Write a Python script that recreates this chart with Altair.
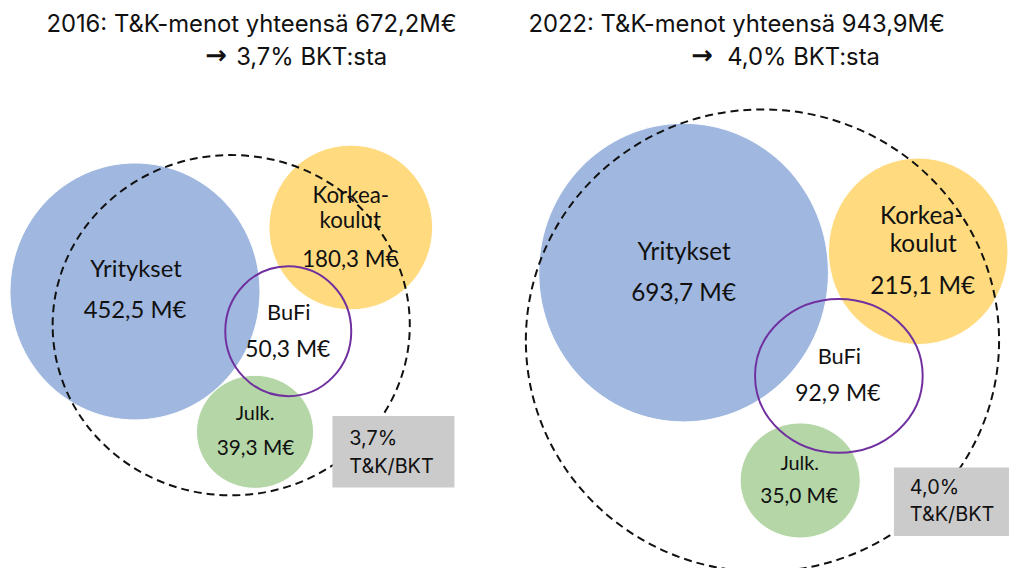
import altair as alt
import pandas as pd

# ---------------- data ----------------
years = [2016, 2022]
totals = [672.2, 943.9]          # T&K-menot yhteensä, M€
gdp_share = [3.7, 4.0]           # % BKT:sta
categories = ["Yritykset", "Korkeakoulut", "BuFi", "Julk."]
label_lines = [["Yritykset"], ["Korkea-", "koulut"], ["BuFi"], ["Julk."]]
values_2016 = [452.5, 180.3, 50.3, 39.3]
values_2022 = [693.7, 215.1, 92.9, 35.0]
values = [values_2016, values_2022]

# ---------------- layout (page pixels) ----------------
colors = ["#A0B8E0", "#FFDA7E", "#7030A0", "#B5D6A7"]
cx = [[136, 353.5, 290.5, 257], [689, 925.5, 845.5, 806.5]]
cy = [[291.5, 227, 331.5, 433], [272.5, 251, 376.5, 482]]
rx = [[126, 82.5, 63.5, 59], [146, 90.5, 84.5, 60.5]]
ry = [[129.5, 83, 65.5, 57], [150.5, 94, 77.5, 58]]
tot_cx = [233, 768.5]
tot_cy = [325.5, 341]
tot_rx = [180, 238.5]
tot_ry = [171.5, 233]
box_x = [335, 901]
box_x2 = [458, 1017]
box_y = [417, 469]
box_y2 = [489, 538]
box_tx = [352, 917]
box_ty = [[446, 474], [496, 523]]
title_cx = [253.5, 742.5]
title_y = [30, 63]
arrow_x = [207, 697]
share_x = [238, 733]
# per category label line baselines / x / font size
lab_x = [[[137, 136], [353.5, 353, 353], [291, 290], [257, 257.5]],
         [[689.5, 689], [929, 930.5, 930], [846, 844.5], [806, 805.5]]]
lab_y = [[[277, 318], [202, 228, 267], [320, 358], [421, 456]],
         [[260, 301], [223, 252, 294], [365, 402], [471, 505]]]
lab_fs = [[24, 22.5, 23, 21], [24.5, 24.5, 23, 21]]

W, H = 1009, 560
XS = alt.Scale(domain=[8, 8 + W])
YS = alt.Scale(domain=[8, 8 + H], reverse=True)


def fmt(v):
    return f"{v:.1f}".replace(".", ",")


def ellipse_path(e):
    k = 0.5523
    return (f"M-1,0C-1,{-k*e:.4f} {-k:.4f},{-e:.4f} 0,{-e:.4f}"
            f"C{k:.4f},{-e:.4f} 1,{-k*e:.4f} 1,0"
            f"C1,{k*e:.4f} {k:.4f},{e:.4f} 0,{e:.4f}"
            f"C{-k:.4f},{e:.4f} -1,{k*e:.4f} -1,0Z")


fill_rows, ring_rows, tot_rows, text_rows = [], [], [], []
for p in range(2):
    for i, cat in enumerate(categories):
        row = dict(x=cx[p][i], y=cy[p][i], sz=(2 * rx[p][i]) ** 2,
                   shp=ellipse_path(ry[p][i] / rx[p][i]), col=colors[i], cat=cat)
        (ring_rows if cat == "BuFi" else fill_rows).append(row)
        lines = label_lines[i] + [f"{fmt(values[p][i])} M€"]
        for j, t in enumerate(lines):
            text_rows.append(dict(x=lab_x[p][i][j], y=lab_y[p][i][j], t=t,
                                  fs=lab_fs[p][i] - (1 if t in ("Julk.", "BuFi") else 0)))
    tot_rows.append(dict(x=tot_cx[p], y=tot_cy[p], sz=(2 * tot_rx[p]) ** 2,
                         shp=ellipse_path(tot_ry[p] / tot_rx[p])))

fills = pd.DataFrame(fill_rows)
rings = pd.DataFrame(ring_rows)
tots = pd.DataFrame(tot_rows)
texts = pd.DataFrame(text_rows)

boxes = pd.DataFrame(dict(x=box_x, x2=box_x2, y=box_y, y2=box_y2))
box_text = pd.DataFrame(
    [dict(x=box_tx[p], y=box_ty[p][0], t=f"{fmt(gdp_share[p])}%") for p in range(2)]
    + [dict(x=box_tx[p], y=box_ty[p][1], t="T&K/BKT") for p in range(2)])

title1 = pd.DataFrame(dict(x=title_cx, y=[title_y[0]] * 2,
                           t=[f"{years[p]}: T&K-menot yhteensä {fmt(totals[p])}M€" for p in range(2)]))
title2 = pd.DataFrame(dict(x=share_x, y=[title_y[1]] * 2,
                           t=[f"{fmt(s)}% BKT:sta" for s in gdp_share]))
arrows = pd.DataFrame(dict(x=arrow_x, y=[title_y[1] - 1] * 2, t=["→", "→"]))

X = lambda f="x": alt.X(f"{f}:Q", scale=XS, axis=None)
Y = lambda f="y": alt.Y(f"{f}:Q", scale=YS, axis=None)

fill_layer = alt.Chart(fills).mark_point(filled=True, opacity=1, stroke="white",
                                         strokeWidth=1).encode(
    x=X(), y=Y(), size=alt.Size("sz:Q", scale=None, legend=None),
    shape=alt.Shape("shp:N", scale=None, legend=None),
    fill=alt.Fill("col:N", scale=None, legend=None))

tot_layer = alt.Chart(tots).mark_point(filled=False, opacity=1, stroke="#111111",
                                       strokeWidth=2, strokeDash=[8, 5]).encode(
    x=X(), y=Y(), size=alt.Size("sz:Q", scale=None, legend=None),
    shape=alt.Shape("shp:N", scale=None, legend=None))

ring_layer = alt.Chart(rings).mark_point(filled=False, opacity=1, stroke="#7030A0",
                                         strokeWidth=2).encode(
    x=X(), y=Y(), size=alt.Size("sz:Q", scale=None, legend=None),
    shape=alt.Shape("shp:N", scale=None, legend=None))

box_layer = alt.Chart(boxes).mark_rect(color="#CBCBCB").encode(
    x=X(), x2="x2:Q", y=Y(), y2="y2:Q")

label_layer = alt.Chart(texts).mark_text(font="Lato", baseline="alphabetic",
                                         align="center", color="#111111").encode(
    x=X(), y=Y(), text="t:N", size=alt.Size("fs:Q", scale=None, legend=None))

box_text_layer = alt.Chart(box_text).mark_text(font="Inter", fontSize=20, baseline="alphabetic",
                                               align="left", color="#111111").encode(
    x=X(), y=Y(), text="t:N")

t1_layer = alt.Chart(title1).mark_text(font="Inter", fontSize=24, baseline="alphabetic",
                                       align="center", color="#111111").encode(
    x=X(), y=Y(), text="t:N")
t2_layer = alt.Chart(title2).mark_text(font="Inter", fontSize=24, baseline="alphabetic",
                                       align="left", color="#111111").encode(
    x=X(), y=Y(), text="t:N")
arrow_layer = alt.Chart(arrows).mark_text(font="DejaVu Sans", fontSize=26, fontWeight="bold",
                                          baseline="alphabetic", align="left",
                                          color="#111111").encode(
    x=X(), y=Y(), text="t:N")

chart = alt.layer(fill_layer, tot_layer, ring_layer, box_layer, label_layer,
                  box_text_layer, t1_layer, t2_layer, arrow_layer).properties(
    width=W, height=H, padding=0,
    autosize=alt.AutoSizeParams(type="none", contains="padding")
).configure_view(stroke=None)

chart.save("out.html", embed_options={"renderer": "svg", "actions": False})
